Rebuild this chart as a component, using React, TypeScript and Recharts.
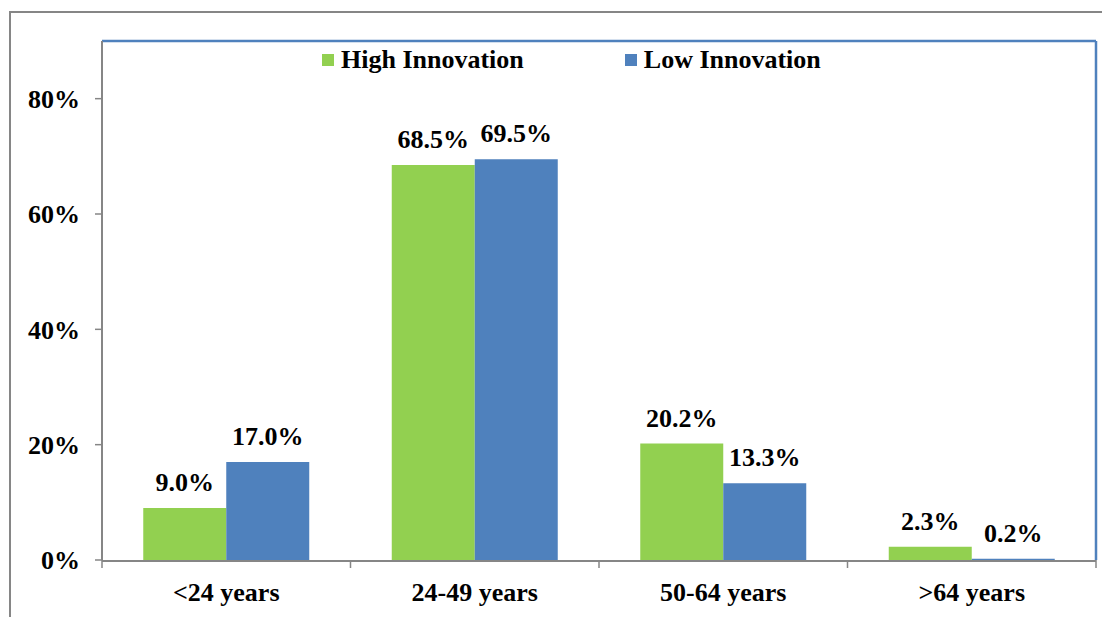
import React from 'react';
import { BarChart, Bar, XAxis, YAxis, LabelList, Legend } from 'recharts';

const categories = ['<24 years', '24-49 years', '50-64 years', '>64 years'];
const highInnovation = [9.0, 68.5, 20.2, 2.3];
const lowInnovation = [17.0, 69.5, 13.3, 0.2];
const yTicks = [0, 20, 40, 60, 80];
const seriesNames = ['High Innovation', 'Low Innovation'];

const GREEN = '#92d050';
const BLUE = '#4f81bd';
const GRAY = '#868686';
const FONT = '"Liberation Serif", "Times New Roman", serif';

const data = categories.map((c, i) => ({ cat: c, high: highInnovation[i], low: lowInnovation[i], idx: i }));
const edgeTicks = categories.map((_, i) => i).concat(categories.length);

const LegendContent = (props: any) => {
  const payload = props.payload || [];
  return (
    <div style={{ display: 'flex', alignItems: 'center', fontFamily: FONT, fontWeight: 'bold', fontSize: 26, color: '#000', whiteSpace: 'nowrap' }}>
      {payload.map((p: any, i: number) => (
        <div key={i} style={{ display: 'flex', alignItems: 'center', marginRight: i === 0 ? 101 : 0 }}>
          <span style={{ display: 'inline-block', width: 12, height: 12, background: p.color, marginRight: 7 }} />
          <span>{p.value}</span>
        </div>
      ))}
    </div>
  );
};

export default function App() {
  return (
    <div style={{ position: 'relative', width: 1102, height: 609, background: '#fff' }}>
      <style>{`html,body{overflow:hidden;}`}</style>
      <div style={{ position: 'absolute', left: 1, top: 3, width: 1099, height: 620, borderLeft: `2px solid ${GRAY}`, borderTop: `2px solid ${GRAY}` }} />
      <BarChart
        width={1102}
        height={609}
        data={data}
        margin={{ top: 32, right: 13, left: 14, bottom: 7 }}
        barCategoryGap="16.6%"
        barGap={0}
        style={{ position: 'absolute', left: 0, top: 0 }}
      >
        <XAxis
          xAxisId="zCat"
          dataKey="cat"
          axisLine={{ stroke: GRAY, strokeWidth: 2 }}
          tickLine={false}
          tickSize={0}
          tickMargin={22}
          height={49}
          interval={0}
          tick={{ fontFamily: FONT, fontWeight: 'bold', fontSize: 26, fill: '#000' }}
        />
        <XAxis
          xAxisId="aEdges"
          type="number"
          dataKey="idx"
          domain={[0, categories.length]}
          ticks={edgeTicks}
          tickFormatter={() => ''}
          axisLine={false}
          tickLine={{ stroke: GRAY, strokeWidth: 1.5 }}
          tickSize={8}
          height={1}
          allowDataOverflow
        />
        <XAxis
          xAxisId="top"
          orientation="top"
          dataKey="cat"
          height={1}
          tick={false}
          tickLine={false}
          axisLine={{ stroke: BLUE, strokeWidth: 2.5 }}
        />
        <YAxis
          yAxisId="left"
          domain={[0, 90]}
          ticks={yTicks}
          tickFormatter={(v: number) => `${v}%`}
          width={80}
          axisLine={{ stroke: GRAY, strokeWidth: 2 }}
          tickLine={{ stroke: GRAY, strokeWidth: 1.5 }}
          tickSize={7}
          tickMargin={15}
          tick={{ fontFamily: FONT, fontWeight: 'bold', fontSize: 26, fill: '#000' }}
          allowDataOverflow
        />
        <YAxis
          yAxisId="right"
          orientation="right"
          domain={[0, 90]}
          width={1}
          tick={false}
          tickLine={false}
          axisLine={{ stroke: BLUE, strokeWidth: 2.5 }}
        />
        <Legend
          verticalAlign="middle"
          align="center"
          layout="horizontal"
          content={<LegendContent />}
          wrapperStyle={{ top: 37, left: 314, width: 'auto' }}
        />
        <Bar xAxisId="zCat" yAxisId="left" dataKey="high" name={seriesNames[0]} fill={GREEN} isAnimationActive={false}>
          <LabelList dataKey="high" position="top" offset={17} formatter={(v: any) => `${Number(v).toFixed(1)}%`} style={{ fontFamily: FONT, fontWeight: 'bold', fontSize: 26, fill: '#000' }} />
        </Bar>
        <Bar xAxisId="zCat" yAxisId="left" dataKey="low" name={seriesNames[1]} fill={BLUE} isAnimationActive={false}>
          <LabelList dataKey="low" position="top" offset={17} formatter={(v: any) => `${Number(v).toFixed(1)}%`} style={{ fontFamily: FONT, fontWeight: 'bold', fontSize: 26, fill: '#000' }} />
        </Bar>
      </BarChart>
    </div>
  );
}
